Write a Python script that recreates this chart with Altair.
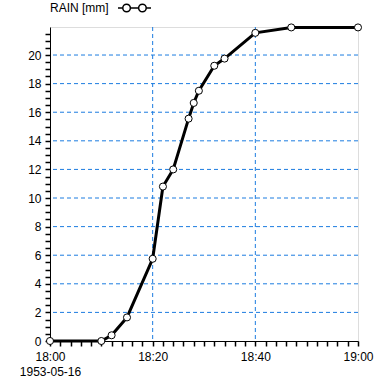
import altair as alt
import pandas as pd

# ---- data ----
times = ["18:00", "18:10", "18:12", "18:15", "18:20", "18:22", "18:24", "18:27",
         "18:28", "18:29", "18:32", "18:34", "18:40", "18:47", "19:00"]
rain = [0.0, 0.0, 0.4, 1.65, 5.75, 10.8, 12.0, 15.55, 16.65, 17.5, 19.25, 19.75,
        21.55, 21.93, 21.93]
series_name = "RAIN [mm]"
date_label = "1953-05-16"
y_grid = [2, 4, 6, 8, 10, 12, 14, 16, 18, 20]
x_grid_times = ["18:20", "18:40"]


def to_min(t):
    h, m = t.split(":")
    return (int(h) - 18) * 60 + int(m)


df = pd.DataFrame({"t": [to_min(t) for t in times], "rain": rain, "series": series_name})
ygrid_df = pd.DataFrame({"rain": y_grid})
xgrid_df = pd.DataFrame({"t": [to_min(t) for t in x_grid_times]})

FONT = "Liberation Sans"
BLUE = "#1c7ce0"

x_scale = alt.Scale(domain=[0, 60], nice=False, zero=False)
y_scale = alt.Scale(domain=[0, 21.96], nice=False)

x_ticks = list(range(0, 61, 2))
y_ticks = [i * 0.5 for i in range(0, 44)]

x_label_expr = ("datum.value % 20 == 0 ? (toString(18 + floor(datum.value / 60)) + ':' + "
                "(datum.value % 60 < 10 ? '0' : '') + toString(datum.value % 60)) : ''")
y_label_expr = "datum.value % 2 == 0 ? toString(datum.value) : ''"

x_axis = alt.Axis(values=x_ticks, labelExpr=x_label_expr, grid=False, ticks=True,
                  tickSize=5, tickColor="black", tickWidth=1.5, tickOpacity=1,
                  labelOverlap=False, labelFlush=False, labelPadding=5,
                  title=date_label, titleX=0, titleY=25, titleAlign="center",
                  titleBaseline="top", titleAnchor="start")
y_axis = alt.Axis(values=y_ticks, labelExpr=y_label_expr, grid=False, ticks=True,
                  tickSize=5, tickColor="black", tickWidth=1.5, tickOpacity=1,
                  labelOverlap=False, labelFlush=False, title=None,
                  labelPadding=4)

X = alt.X("t:Q", scale=x_scale, axis=x_axis)
Y = alt.Y("rain:Q", scale=y_scale, axis=y_axis)

ygrid = alt.Chart(ygrid_df).mark_rule(color=BLUE, strokeDash=[4, 3], strokeWidth=1).encode(
    y=Y
)
xgrid = alt.Chart(xgrid_df).mark_rule(color=BLUE, strokeDash=[4, 3], strokeWidth=1).encode(
    x=X
)

legend_path = ("M-1,0L-0.71,0 M-0.25,0A0.23,0.23 0 1,1 -0.71,0A0.23,0.23 0 1,1 -0.25,0 "
               "M-0.25,0L0.25,0 M0.71,0A0.23,0.23 0 1,1 0.25,0A0.23,0.23 0 1,1 0.71,0 "
               "M0.71,0L1,0")

line = alt.Chart(df).mark_line(strokeWidth=3).encode(
    x=X,
    y=Y,
    color=alt.Color("series:N", scale=alt.Scale(range=["black"]),
                    legend=alt.Legend(title=series_name, titleOrient="left",
                                      titleFontSize=12, titleFontWeight="normal",
                                      titleFont=FONT, titleColor="black",
                                      titlePadding=8, titleBaseline="top",
                                      labelExpr="''", symbolType=legend_path,
                                      symbolSize=1089, symbolFillColor="white",
                                      symbolStrokeColor="black", symbolStrokeWidth=1.5,
                                      orient="none", legendX=0, legendY=-36.5,
                                      padding=0, offset=0)),
)
points = alt.Chart(df).mark_point(shape="circle", filled=True, fill="white",
                                  stroke="black", strokeWidth=1, size=50,
                                  opacity=1).encode(x=X, y=Y)

chart = alt.layer(ygrid, xgrid, line, points).properties(
    width=308, height=314,
    autosize=alt.AutoSizeParams(type="none"),
    padding={"left": 50, "top": 27, "right": 22, "bottom": 39},
    background="white",
).configure_view(stroke="black", strokeWidth=1).configure(font=FONT).configure_axis(
    grid=False, domainColor="black", domainWidth=1, labelColor="black", labelFontSize=12,
    labelFont=FONT, labelOverlap=False, titleFontSize=12,
    titleFontWeight="normal", titleFont=FONT, titleColor="black",
)

chart.save("out.html", embed_options={"renderer": "svg", "actions": False})
